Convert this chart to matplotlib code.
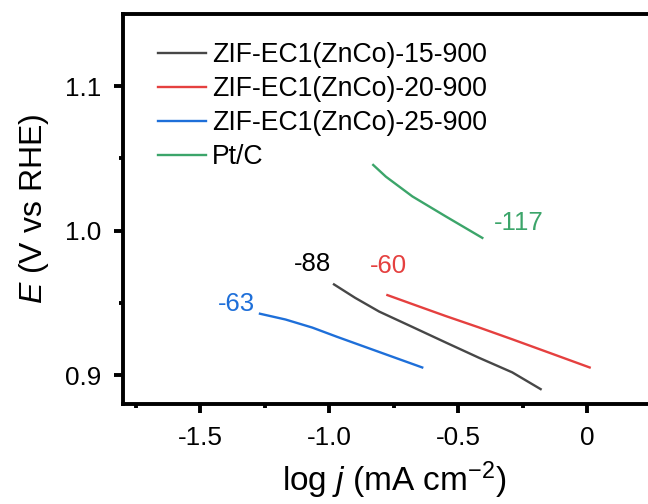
import matplotlib
matplotlib.use("Agg")
import matplotlib.pyplot as plt
from matplotlib.ticker import FixedLocator, FixedFormatter

plt.rcParams['font.family'] = ['Liberation Sans', 'DejaVu Sans']
plt.rcParams['mathtext.fontset'] = 'custom'
plt.rcParams['mathtext.rm'] = 'Liberation Sans'
plt.rcParams['mathtext.it'] = 'Liberation Sans:italic'
plt.rcParams['axes.unicode_minus'] = False

# ---- data ----
series_names = ["ZIF-EC1(ZnCo)-15-900", "ZIF-EC1(ZnCo)-20-900",
                "ZIF-EC1(ZnCo)-25-900", "Pt/C"]
series_colors = ["#474747", "#e5403f", "#1e6fd9", "#3ca56a"]

x_15 = [-0.982, -0.900, -0.807, -0.680, -0.549, -0.420, -0.291, -0.181]
y_15 = [0.9628, 0.9535, 0.9440, 0.9335, 0.9226, 0.9120, 0.9019, 0.8903]

x_20 = [-0.775, -0.660, -0.549, -0.420, -0.291, -0.140, 0.009]
y_20 = [0.9554, 0.9480, 0.9409, 0.9330, 0.9248, 0.9150, 0.9053]

x_25 = [-1.269, -1.170, -1.066, -0.970, -0.872, -0.760, -0.640]
y_25 = [0.9425, 0.9385, 0.9329, 0.9265, 0.9202, 0.9130, 0.9053]

x_pt = [-0.830, -0.781, -0.678, -0.549, -0.407]
y_pt = [1.0455, 1.0374, 1.0237, 1.0099, 0.9950]

tafel_labels = ["-88", "-60", "-63", "-117"]
tafel_label_colors = ["black", "#e5403f", "#1e6fd9", "#3ca56a"]
tafel_label_xy = [(-1.065, 0.9766), (-0.771, 0.9754), (-1.360, 0.9490), (-0.264, 1.0053)]

x_ticks = [-1.5, -1.0, -0.5, 0.0]
x_tick_labels = ["-1.5", "-1.0", "-0.5", "0"]
x_minor_ticks = [-1.75, -1.25, -0.75, -0.25]
y_ticks = [0.9, 1.0, 1.1]
y_tick_labels = ["0.9", "1.0", "1.1"]
y_minor_ticks = [0.95, 1.05]

# ---- figure ----
fig = plt.figure(figsize=(6.48, 5.04), dpi=100)
ax = fig.add_axes([0.1898, 0.1984, 0.836, 0.7738])

xs = [x_15, x_20, x_25, x_pt]
ys = [y_15, y_20, y_25, y_pt]
for xv, yv, name, col in zip(xs, ys, series_names, series_colors):
    ax.plot(xv, yv, color=col, lw=1.7, label=name)

for txt, (tx, ty), col in zip(tafel_labels, tafel_label_xy, tafel_label_colors):
    ax.text(tx, ty, txt, color=col, fontsize=18.5, ha='center', va='center')

ax.set_xlim(-1.8, 0.3)
ax.set_ylim(0.88, 1.15)

ax.xaxis.set_major_locator(FixedLocator(x_ticks))
ax.xaxis.set_major_formatter(FixedFormatter(x_tick_labels))
ax.xaxis.set_minor_locator(FixedLocator(x_minor_ticks))
ax.yaxis.set_major_locator(FixedLocator(y_ticks))
ax.yaxis.set_major_formatter(FixedFormatter(y_tick_labels))
ax.yaxis.set_minor_locator(FixedLocator(y_minor_ticks))

for s in ax.spines.values():
    s.set_linewidth(2.8)
ax.tick_params(which='major', direction='out', length=6.5, width=2.8,
               labelsize=18.8, pad=9)
ax.tick_params(which='minor', direction='out', length=3.2, width=2.8)
ax.tick_params(axis='x', which='both', top=False)
ax.tick_params(axis='y', which='both', right=False)

ax.set_xlabel("log $j$ (mA cm$^{-2}$)", fontsize=24, labelpad=7)
ax.set_ylabel("$E$ (V vs RHE)", fontsize=23, labelpad=10)

leg = ax.legend(loc='upper left', bbox_to_anchor=(0.064, 0.928), frameon=False,
                fontsize=19.2, handlelength=1.8, handletextpad=0.25,
                labelspacing=0.3, borderpad=0, borderaxespad=0)

fig.savefig("out.png", dpi=100)
